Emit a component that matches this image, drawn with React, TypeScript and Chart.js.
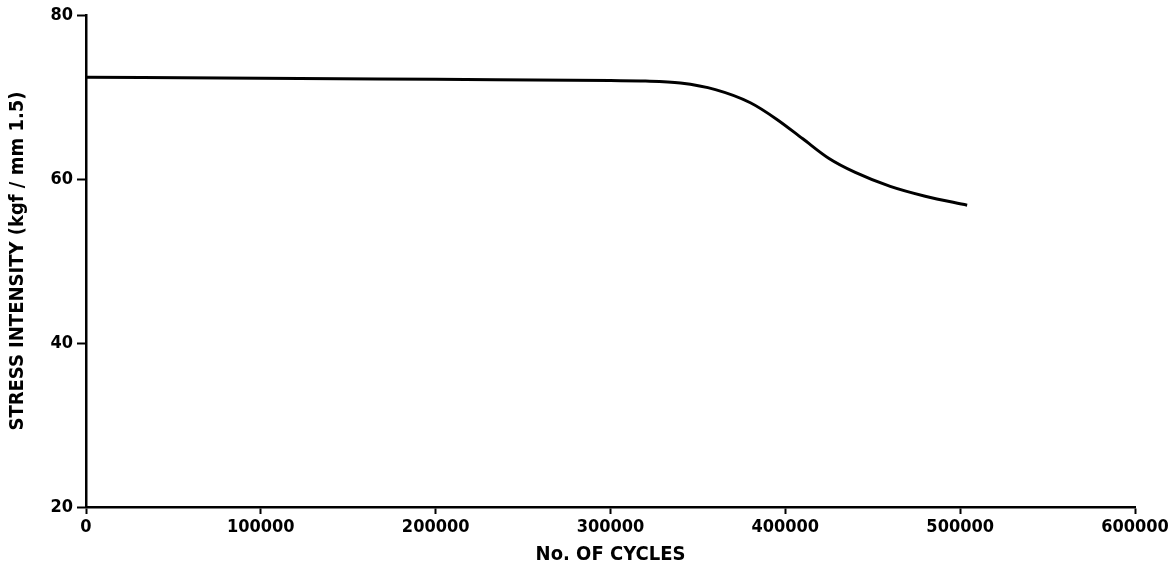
import React, { useEffect, useRef } from "react";
import { Chart, registerables } from "chart.js";

Chart.register(...registerables);

const cycles = [0, 100000, 200000, 300000, 320000, 340000, 360000, 380000, 395000, 410000, 425000, 440000, 460000, 480000, 504000];
const stress = [72.4, 72.3, 72.15, 72.0, 71.95, 71.7, 70.9, 69.3, 67.3, 64.9, 62.5, 60.8, 59.1, 57.9, 56.8];

const xTitle = "No. OF CYCLES";
const yTitle = "STRESS INTENSITY (kgf / mm 1.5)";

const FONT = "'DejaVu Sans Condensed', 'DejaVu Sans', sans-serif";

export default function App() {
  const ref = useRef<HTMLCanvasElement | null>(null);

  useEffect(() => {
    if (!ref.current) return;
    const points = cycles.map((c, i) => ({ x: c, y: stress[i] }));
    const chart = new Chart(ref.current, {
      type: "scatter",
      data: {
        datasets: [
          {
            data: points,
            showLine: true,
            borderColor: "#000",
            borderWidth: 3,
            pointRadius: 0,
            cubicInterpolationMode: "monotone",
            fill: false,
          },
        ],
      },
      options: {
        responsive: false,
        animation: false,
        layout: { padding: { top: 15, right: 37, left: 0, bottom: 0 } },
        plugins: { legend: { display: false }, tooltip: { enabled: false } },
        scales: {
          x: {
            type: "linear",
            min: 0,
            max: 600000,
            afterFit: (s: any) => {
              s.height = 75;
            },
            ticks: {
              stepSize: 100000,
              maxRotation: 0,
              color: "#000",
              padding: 3,
              font: { family: FONT, size: 18, weight: "bold" },
              callback: (v: any) => String(v),
            },
            grid: {
              drawOnChartArea: false,
              drawTicks: true,
              tickLength: 7,
              tickColor: "#000",
              tickWidth: 2,
            },
            border: { display: true, color: "#000", width: 2.5 },
            title: {
              display: true,
              text: xTitle,
              color: "#000",
              font: { family: FONT, size: 20, weight: "bold" },
              padding: { top: 0, bottom: 15 },
            },
          },
          y: {
            type: "linear",
            min: 20,
            max: 80,
            afterFit: (s: any) => {
              s.width = 86;
            },
            ticks: {
              stepSize: 20,
              color: "#000",
              padding: 4,
              font: { family: FONT, size: 18, weight: "bold" },
            },
            grid: {
              drawOnChartArea: false,
              drawTicks: true,
              tickLength: 9,
              tickColor: "#000",
              tickWidth: 2,
            },
            border: { display: true, color: "#000", width: 2.5 },
            title: {
              display: true,
              text: yTitle,
              color: "#000",
              font: { family: FONT, size: 20, weight: "bold" },
              padding: { top: 6, bottom: 0 },
            },
          },
        },
      },
    } as any);
    return () => chart.destroy();
  }, []);

  return (
    <div style={{ position: "absolute", left: 0, top: 0, width: 1172, height: 582, background: "#fff" }}>
      <canvas ref={ref} width={1172} height={582} style={{ display: "block" }} />
    </div>
  );
}
